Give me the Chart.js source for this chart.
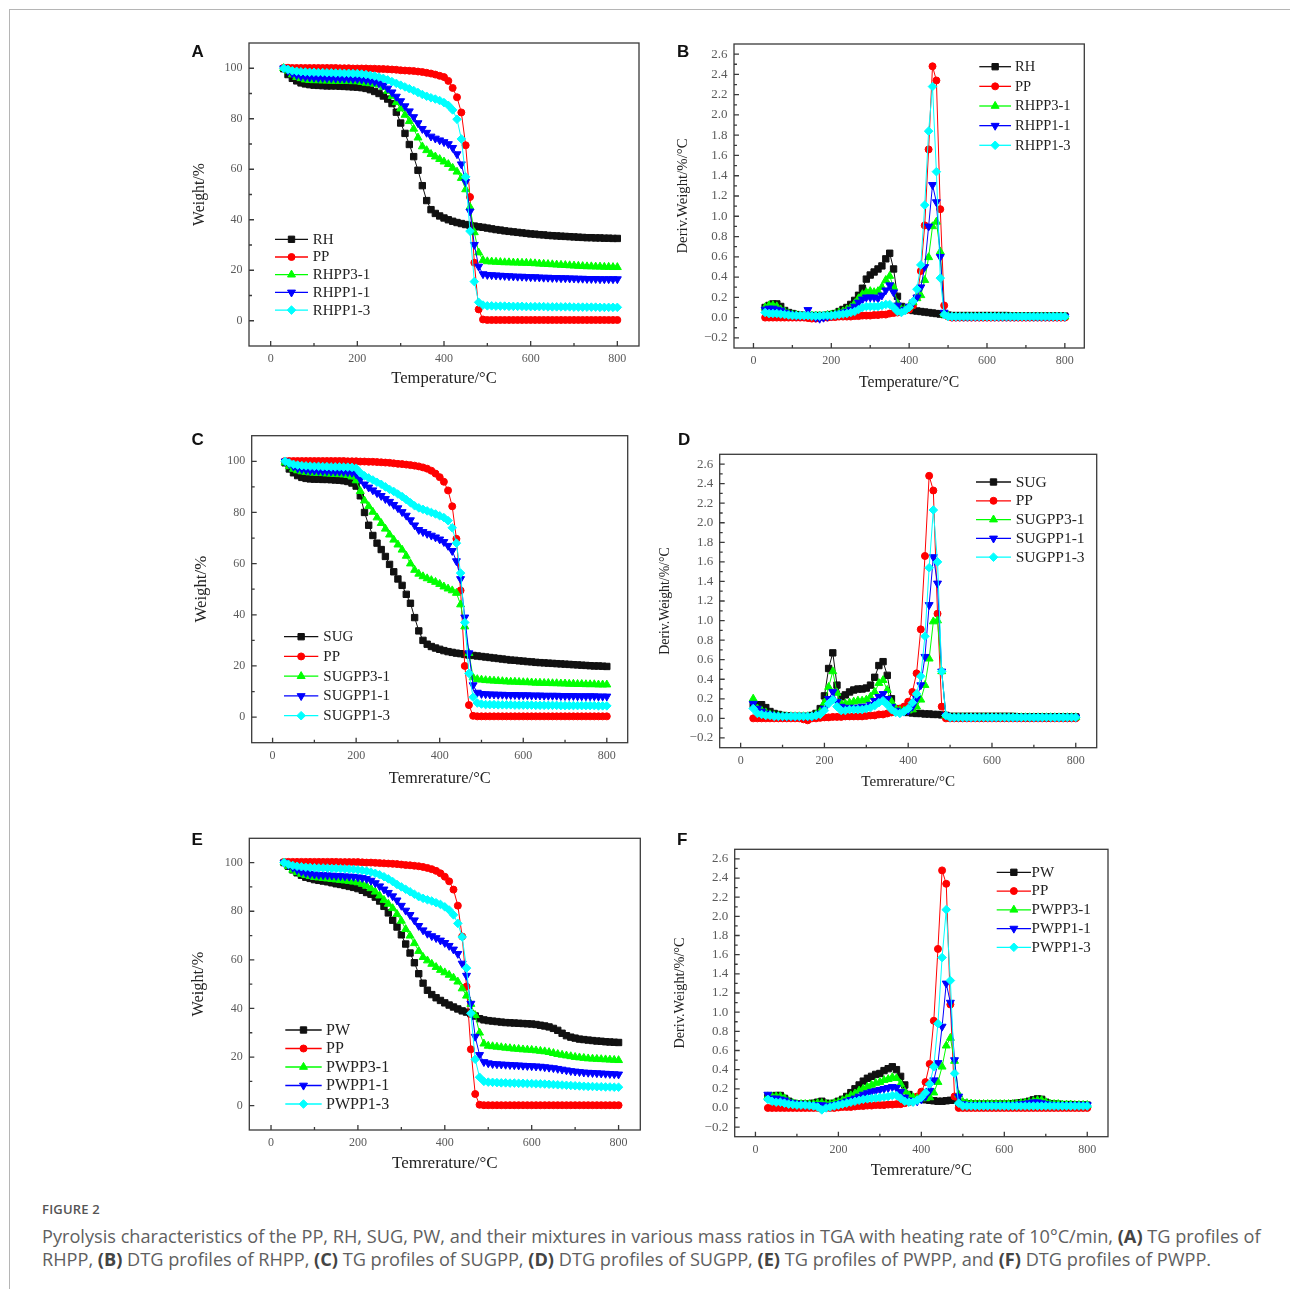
<!DOCTYPE html>
<html>
<head>
<meta charset="utf-8">
<script src="https://cdn.jsdelivr.net/npm/chart.js@4.4.1/dist/chart.umd.min.js"></script>
<style>
  body { margin: 0; background: #fff; }
  #page { position: relative; width: 1290px; height: 1289px; overflow: hidden; background: #fff; }
  .frame { position: absolute; left: 9px; top: 9px; width: 1300px; height: 1300px;
           border-left: 1.5px solid #b5b5b5; border-top: 1.5px solid #b5b5b5; }
  canvas { position: absolute; }
  .tag { position: absolute; font: bold 17px "Liberation Sans", Arial, sans-serif; line-height: 17px; color: #111; }
  .figno { position: absolute; left: 42px; top: 1201px; font: 600 13px "Open Sans", sans-serif;
           line-height: 16px; color: #555; letter-spacing: 0.2px; }
  .cap { position: absolute; left: 42px; white-space: nowrap; font: 17px "Open Sans", sans-serif;
         line-height: 23px; color: #606060; }
  .cap b { color: #444; }
</style>
</head>
<body>
<div id="page">
  <div class="frame"></div>
  <canvas id="cA"></canvas>
  <canvas id="cB"></canvas>
  <canvas id="cC"></canvas>
  <canvas id="cD"></canvas>
  <canvas id="cE"></canvas>
  <canvas id="cF"></canvas>
  <div class="tag" style="left:191.5px;top:42.8px">A</div>
  <div class="tag" style="left:677px;top:42.8px">B</div>
  <div class="tag" style="left:191.5px;top:431px">C</div>
  <div class="tag" style="left:678px;top:431px">D</div>
  <div class="tag" style="left:191.5px;top:830.5px">E</div>
  <div class="tag" style="left:677px;top:830.5px">F</div>
  <div class="figno">FIGURE 2</div>
  <div class="cap" id="cap1" style="top:1224.5px">Pyrolysis characteristics of the PP, RH, SUG, PW, and their mixtures in various mass ratios in TGA with heating rate of 10°C/min, <b>(A)</b> TG profiles of</div>
  <div class="cap" id="cap2" style="top:1247.5px">RHPP, <b>(B)</b> DTG profiles of RHPP, <b>(C)</b> TG profiles of SUGPP, <b>(D)</b> DTG profiles of SUGPP, <b>(E)</b> TG profiles of PWPP, and <b>(F)</b> DTG profiles of PWPP.</div>
</div>

<script>
// temperature grid, °C
const temps = [
  30, 40, 50, 60, 70, 80, 90, 100,
  110, 120, 130, 140, 150, 160, 170, 180, 190, 200,
  210, 220, 230, 240, 250, 260, 270, 280, 290, 300,
  310, 320, 330, 340, 350, 360, 370, 380, 390, 400,
  410, 420, 430, 440, 450, 460, 470, 480, 490, 500,
  510, 520, 530, 540, 550, 560, 570, 580, 590, 600,
  610, 620, 630, 640, 650, 660, 670, 680, 690, 700,
  710, 720, 730, 740, 750, 760, 770, 780, 790, 800
];

// tick values
const xTicks = [0, 100, 200, 300, 400, 500, 600, 700, 800];
const tgTicks = [0, 10, 20, 30, 40, 50, 60, 70, 80, 90, 100];
const dtgTicks = [-0.2, -0.1, 0, 0.1, 0.2, 0.3, 0.4, 0.5, 0.6, 0.7, 0.8, 0.9, 1.0, 1.1, 1.2, 1.3, 1.4,
  1.5, 1.6, 1.7, 1.8, 1.9, 2.0, 2.1, 2.2, 2.3, 2.4, 2.5, 2.6];

const namesRH = ['RH', 'PP', 'RHPP3-1', 'RHPP1-1', 'RHPP1-3'];
const namesSUG = ['SUG', 'PP', 'SUGPP3-1', 'SUGPP1-1', 'SUGPP1-3'];
const namesPW = ['PW', 'PP', 'PWPP3-1', 'PWPP1-1', 'PWPP1-3'];

// ---- (A) TG, rice husk blends (weight %)
const tgRH = [
  99.8, 97.5, 96.0, 95.0, 94.2, 93.8, 93.5, 93.3,
  93.2, 93.1, 93.0, 93.0, 93.0, 92.9, 92.8, 92.7, 92.6, 92.5,
  92.3, 92.0, 91.5, 90.8, 90.0, 89.0, 87.8, 86.0, 82.6, 78.3,
  74.2, 69.8, 65.0, 59.6, 53.5, 47.6, 44.0, 42.5, 41.5, 40.7,
  40.0, 39.4, 38.9, 38.5, 38.1, 37.8, 37.5, 37.2, 37.0, 36.7,
  36.4, 36.1, 35.9, 35.6, 35.4, 35.2, 35.0, 34.8, 34.6, 34.4,
  34.3, 34.1, 34.0, 33.8, 33.7, 33.6, 33.5, 33.4, 33.3, 33.2,
  33.1, 33.0, 32.9, 32.9, 32.8, 32.8, 32.7, 32.7, 32.6, 32.6
];
const tgPP_RH = [
  100.2, 100.2, 100.1, 100.1, 100.1, 100.1, 100.1, 100.1,
  100.1, 100.1, 100.1, 100.1, 100.1, 100.0, 100.0, 100.0, 99.9, 99.9,
  99.9, 99.9, 99.8, 99.8, 99.7, 99.7, 99.6, 99.5, 99.4, 99.2,
  99.1, 99.0, 98.9, 98.7, 98.5, 98.2, 97.9, 97.5, 97.0, 96.5,
  95.0, 92.2, 88.5, 82.5, 69.5, 49.0, 23.0, 4.5, 0.5, 0.3,
  0.3, 0.3, 0.3, 0.3, 0.3, 0.3, 0.3, 0.3, 0.3, 0.3,
  0.3, 0.3, 0.3, 0.3, 0.3, 0.3, 0.3, 0.3, 0.3, 0.3,
  0.3, 0.3, 0.3, 0.3, 0.3, 0.3, 0.3, 0.3, 0.3, 0.3
];
const tgRHPP31 = [
  100.0, 99.0, 97.5, 96.5, 96.0, 95.5, 95.3, 95.2,
  95.2, 95.1, 95.1, 95.0, 95.0, 95.0, 94.9, 94.9, 94.8, 94.8,
  94.5, 94.2, 94.0, 93.8, 93.5, 92.5, 91.0, 89.0, 86.5, 84.0,
  81.5, 79.0, 76.0, 72.5, 69.0, 67.5, 66.0, 65.0, 64.0, 63.0,
  62.0, 60.5, 59.0, 56.5, 52.0, 45.0, 35.0, 27.0, 24.0, 23.5,
  23.4, 23.3, 23.2, 23.1, 23.1, 23.0, 23.0, 22.9, 22.9, 22.8,
  22.7, 22.6, 22.5, 22.4, 22.3, 22.2, 22.1, 22.0, 21.9, 21.8,
  21.7, 21.6, 21.5, 21.5, 21.4, 21.4, 21.3, 21.3, 21.2, 21.2
];
const tgRHPP11 = [
  100.0, 99.0, 98.0, 97.3, 96.9, 96.6, 96.4, 96.3,
  96.2, 96.2, 96.1, 96.1, 96.0, 96.0, 95.9, 95.9, 95.8, 95.8,
  95.6, 95.4, 95.1, 94.7, 94.1, 93.2, 92.0, 90.5, 88.8, 87.0,
  85.0, 83.0, 80.7, 78.3, 76.0, 74.5, 73.0, 72.2, 71.5, 70.8,
  70.0, 68.5, 66.0, 62.0, 55.0, 43.3, 30.1, 21.5, 18.5, 18.2,
  18.1, 18.0, 17.9, 17.8, 17.7, 17.6, 17.5, 17.5, 17.4, 17.3,
  17.3, 17.2, 17.1, 17.1, 17.0, 17.0, 16.9, 16.9, 16.8, 16.8,
  16.7, 16.7, 16.6, 16.6, 16.6, 16.5, 16.5, 16.5, 16.5, 16.5
];
const tgRHPP13 = [
  100.0, 99.5, 99.0, 98.8, 98.6, 98.5, 98.4, 98.4,
  98.3, 98.3, 98.2, 98.2, 98.1, 98.1, 98.0, 98.0, 97.9, 97.9,
  97.7, 97.5, 97.2, 96.9, 96.5, 96.0, 95.4, 94.7, 94.0, 93.3,
  92.6, 91.9, 91.2, 90.4, 89.6, 88.9, 88.3, 87.8, 87.2, 86.4,
  85.3, 83.5, 79.8, 72.0, 57.0, 35.5, 15.5, 7.3, 6.2, 5.9,
  5.9, 5.8, 5.8, 5.8, 5.7, 5.7, 5.7, 5.7, 5.6, 5.6,
  5.6, 5.6, 5.6, 5.5, 5.5, 5.5, 5.5, 5.5, 5.5, 5.4,
  5.4, 5.4, 5.4, 5.4, 5.4, 5.3, 5.3, 5.3, 5.3, 5.3
];

// ---- (B) DTG, rice husk blends (%/°C)
const dtgRH = [
  0.10, 0.12, 0.135, 0.135, 0.11, 0.07, 0.05, 0.04,
  0.03, 0.025, 0.02, 0.02, 0.02, 0.02, 0.02, 0.02, 0.025, 0.03,
  0.04, 0.06, 0.08, 0.10, 0.13, 0.17, 0.22, 0.29, 0.38, 0.42,
  0.45, 0.48, 0.51, 0.58, 0.635, 0.48, 0.21, 0.11, 0.09, 0.08,
  0.07, 0.065, 0.06, 0.055, 0.05, 0.045, 0.04, 0.035, 0.03, 0.025,
  0.02, 0.02, 0.02, 0.02, 0.02, 0.02, 0.02, 0.02, 0.02, 0.02,
  0.02, 0.02, 0.02, 0.02, 0.02, 0.015, 0.015, 0.015, 0.015, 0.015,
  0.015, 0.015, 0.015, 0.015, 0.015, 0.015, 0.015, 0.015, 0.015, 0.015
];
const dtgPP_RH = [
  0, 0, 0, 0, 0, 0, 0, 0,
  0, 0, 0, -0.005, -0.01, -0.01, 0, 0, 0, 0.005,
  0.005, 0.01, 0.01, 0.01, 0.01, 0.015, 0.015, 0.02, 0.02, 0.02,
  0.025, 0.025, 0.03, 0.03, 0.04, 0.045, 0.05, 0.06, 0.07, 0.08,
  0.12, 0.20, 0.46, 0.91, 1.66, 2.48, 2.34, 1.07, 0.12, 0.01,
  0, 0, 0, 0, 0, 0, 0, 0, 0, 0,
  0, 0, 0, 0, 0, 0, 0, 0, 0, 0,
  0, 0, 0, 0, 0, 0, 0, 0, 0, 0
];
const dtgRHPP31 = [
  0.10, 0.12, 0.12, 0.11, 0.08, 0.06, 0.04, 0.03,
  0.025, 0.02, 0.02, 0.02, 0.02, 0.02, 0.02, 0.02, 0.025, 0.03,
  0.035, 0.05, 0.06, 0.08, 0.10, 0.14, 0.19, 0.23, 0.25, 0.26,
  0.25, 0.26, 0.30, 0.37, 0.41, 0.30, 0.14, 0.08, 0.09, 0.11,
  0.15, 0.19, 0.22, 0.37, 0.595, 0.90, 0.945, 0.65, 0.03, 0.02,
  0.01, 0.01, 0.01, 0.01, 0.01, 0.01, 0.01, 0.01, 0.01, 0.01,
  0.01, 0.01, 0.01, 0.01, 0.01, 0.01, 0.01, 0.01, 0.01, 0.01,
  0.01, 0.01, 0.01, 0.01, 0.01, 0.01, 0.01, 0.01, 0.01, 0.01
];
const dtgRHPP11 = [
  0.08, 0.09, 0.09, 0.08, 0.07, 0.05, 0.04, 0.03,
  0.02, 0.02, 0.02, 0.076, 0.02, 0.0, -0.01, 0.0, 0.01, 0.02,
  0.03, 0.04, 0.05, 0.06, 0.08, 0.11, 0.15, 0.18, 0.20, 0.20,
  0.20, 0.19, 0.22, 0.27, 0.32, 0.25, 0.12, 0.07, 0.08, 0.11,
  0.15, 0.20, 0.30, 0.50, 0.90, 1.31, 1.14, 0.60, 0.05, 0.02,
  0.01, 0.01, 0.01, 0.01, 0.01, 0.01, 0.01, 0.01, 0.01, 0.01,
  0.01, 0.01, 0.01, 0.01, 0.01, 0.01, 0.01, 0.01, 0.01, 0.01,
  0.01, 0.01, 0.01, 0.01, 0.01, 0.01, 0.01, 0.01, 0.01, 0.01
];
const dtgRHPP13 = [
  0.05, 0.04, 0.04, 0.04, 0.035, 0.03, 0.025, 0.02,
  0.02, 0.02, 0.02, 0.02, 0.015, 0.015, 0.015, 0.02, 0.02, 0.02,
  0.025, 0.03, 0.035, 0.04, 0.05, 0.06, 0.08, 0.10, 0.11, 0.11,
  0.11, 0.11, 0.12, 0.13, 0.13, 0.10, 0.06, 0.05, 0.07, 0.10,
  0.16, 0.28, 0.52, 1.11, 1.84, 2.28, 1.44, 0.39, 0.03, 0.01,
  0.01, 0.01, 0.01, 0.01, 0.01, 0.01, 0.01, 0.01, 0.01, 0.01,
  0.01, 0.01, 0.01, 0.01, 0.01, 0.01, 0.01, 0.01, 0.01, 0.01,
  0.01, 0.01, 0.01, 0.01, 0.01, 0.01, 0.01, 0.01, 0.01, 0.01
];

// ---- (C) TG, sugarcane bagasse blends
const tgSUG = [
  99.4, 97.0, 95.5, 94.4, 93.7, 93.3, 93.1, 93.0,
  93.0, 92.9, 92.9, 92.8, 92.7, 92.6, 92.4, 92.1, 91.5, 90.3,
  86.5, 80.0, 75.0, 71.0, 68.0, 65.5, 62.8, 59.7, 56.8, 54.0,
  51.5, 48.0, 44.5, 38.9, 33.7, 30.0, 28.5, 27.6, 27.0, 26.5,
  26.0, 25.6, 25.3, 25.0, 24.8, 24.5, 24.3, 24.1, 23.9, 23.7,
  23.5, 23.3, 23.1, 22.9, 22.7, 22.5, 22.3, 22.2, 22.0, 21.9,
  21.7, 21.6, 21.4, 21.3, 21.2, 21.1, 21.0, 20.9, 20.8, 20.7,
  20.6, 20.5, 20.4, 20.3, 20.2, 20.1, 20.0, 20.0, 19.9, 19.8
];
const tgPP_SUG = [
  100.1, 100.1, 100.1, 100.1, 100.1, 100.1, 100.1, 100.1,
  100.1, 100.1, 100.1, 100.1, 100.1, 100.1, 100.1, 100.0, 100.0, 100.0,
  99.9, 99.9, 99.8, 99.8, 99.7, 99.6, 99.5, 99.4, 99.2, 99.0,
  98.9, 98.7, 98.5, 98.3, 98.0, 97.6, 97.1, 96.3, 95.2, 93.8,
  92.0, 88.6, 82.4, 69.7, 49.5, 20.0, 4.7, 0.5, 0.3, 0.3,
  0.3, 0.3, 0.3, 0.3, 0.3, 0.3, 0.3, 0.3, 0.3, 0.3,
  0.3, 0.3, 0.3, 0.3, 0.3, 0.3, 0.3, 0.3, 0.3, 0.3,
  0.3, 0.3, 0.3, 0.3, 0.3, 0.3, 0.3, 0.3, 0.3, 0.3
];
const tgSUGPP31 = [
  99.5, 98.0, 97.0, 96.4, 96.0, 95.8, 95.6, 95.5,
  95.4, 95.3, 95.2, 95.1, 95.0, 94.9, 94.8, 94.6, 94.0, 92.5,
  88.3, 84.6, 82.4, 80.2, 78.0, 75.8, 73.6, 71.3, 69.3, 67.4,
  65.4, 63.0, 60.0, 57.5, 56.0, 55.0, 54.2, 53.5, 52.8, 52.0,
  51.0, 50.2, 49.5, 48.5, 44.0, 35.4, 25.0, 15.5, 14.8, 14.6,
  14.4, 14.3, 14.2, 14.1, 14.0, 13.9, 13.8, 13.8, 13.7, 13.6,
  13.6, 13.5, 13.4, 13.4, 13.3, 13.3, 13.2, 13.2, 13.1, 13.1,
  13.0, 13.0, 12.9, 12.9, 12.8, 12.8, 12.8, 12.7, 12.7, 12.7
];
const tgSUGPP11 = [
  100.0, 99.0, 98.0, 97.3, 97.0, 96.7, 96.5, 96.4,
  96.3, 96.2, 96.2, 96.1, 96.0, 96.0, 95.9, 95.8, 95.6, 95.0,
  93.0, 91.0, 89.8, 88.7, 87.6, 86.5, 85.3, 84.2, 83.0, 81.7,
  80.2, 78.8, 77.0, 75.0, 73.2, 72.4, 71.7, 71.0, 70.3, 69.5,
  68.5, 67.0, 65.0, 61.0, 54.0, 39.0, 25.0, 12.5, 9.6, 9.1,
  9.0, 8.9, 8.9, 8.8, 8.8, 8.7, 8.7, 8.7, 8.6, 8.6,
  8.6, 8.5, 8.5, 8.5, 8.4, 8.4, 8.4, 8.4, 8.3, 8.3,
  8.3, 8.3, 8.2, 8.2, 8.2, 8.2, 8.2, 8.1, 8.1, 8.1
];
const tgSUGPP13 = [
  100.0, 99.3, 98.8, 98.5, 98.3, 98.2, 98.1, 98.0,
  98.0, 97.9, 97.9, 97.8, 97.8, 97.8, 97.7, 97.7, 97.6, 97.3,
  95.5, 94.3, 93.5, 92.7, 91.8, 91.0, 90.0, 89.0, 88.2, 87.2,
  86.2, 85.0, 83.8, 82.6, 81.8, 81.2, 80.6, 80.0, 79.4, 78.7,
  78.0, 76.8, 74.0, 68.0, 56.3, 37.0, 17.1, 7.8, 5.5, 5.1,
  4.9, 4.9, 4.9, 4.8, 4.8, 4.8, 4.8, 4.7, 4.7, 4.7,
  4.7, 4.7, 4.6, 4.6, 4.6, 4.6, 4.6, 4.6, 4.5, 4.5,
  4.5, 4.5, 4.5, 4.5, 4.5, 4.5, 4.5, 4.4, 4.4, 4.4
];

// ---- (D) DTG, sugarcane bagasse blends
const dtgSUG = [
  0.14, 0.14, 0.14, 0.11, 0.07, 0.05, 0.04, 0.03,
  0.025, 0.02, 0.02, 0.02, 0.02, 0.02, 0.03, 0.05, 0.10, 0.23,
  0.51, 0.67, 0.34, 0.22, 0.24, 0.27, 0.29, 0.30, 0.30, 0.31,
  0.34, 0.42, 0.54, 0.58, 0.44, 0.20, 0.10, 0.08, 0.07, 0.06,
  0.055, 0.05, 0.05, 0.045, 0.045, 0.04, 0.04, 0.035, 0.03, 0.02,
  0.02, 0.02, 0.02, 0.02, 0.02, 0.02, 0.02, 0.02, 0.02, 0.02,
  0.02, 0.02, 0.02, 0.02, 0.02, 0.015, 0.015, 0.015, 0.015, 0.015,
  0.015, 0.015, 0.015, 0.015, 0.015, 0.015, 0.015, 0.015, 0.015, 0.015
];
const dtgPP_SUG = [
  0, 0, 0, 0, 0, 0, 0, 0,
  0, 0, 0, 0, -0.01, -0.02, 0, 0, 0.005, 0.01,
  0.01, 0.015, 0.015, 0.015, 0.02, 0.02, 0.02, 0.02, 0.02, 0.025,
  0.03, 0.03, 0.04, 0.04, 0.05, 0.06, 0.08, 0.10, 0.12, 0.17,
  0.27, 0.46, 0.91, 1.66, 2.48, 2.33, 1.07, 0.12, 0, 0,
  0, 0, 0, 0, 0, 0, 0, 0, 0, 0,
  0, 0, 0, 0, 0, 0, 0, 0, 0, 0,
  0, 0, 0, 0, 0, 0, 0, 0, 0, 0
];
const dtgSUGPP31 = [
  0.20, 0.10, 0.08, 0.06, 0.04, 0.03, 0.025, 0.02,
  0.02, 0.02, 0.02, 0.02, 0.02, 0.02, 0.02, 0.04, 0.07, 0.16,
  0.32, 0.48, 0.26, 0.15, 0.15, 0.16, 0.17, 0.18, 0.18, 0.19,
  0.22, 0.27, 0.36, 0.39, 0.29, 0.17, 0.10, 0.08, 0.08, 0.08,
  0.09, 0.12, 0.19, 0.34, 0.61, 0.99, 1.00, 0.48, 0.03, 0.01,
  0.01, 0.01, 0.01, 0.01, 0.01, 0.01, 0.01, 0.01, 0.01, 0.01,
  0.01, 0.01, 0.01, 0.01, 0.01, 0.01, 0.01, 0.01, 0.01, 0.01,
  0.01, 0.01, 0.01, 0.01, 0.01, 0.01, 0.01, 0.01, 0.01, 0.01
];
const dtgSUGPP11 = [
  0.15, 0.10, 0.07, 0.05, 0.04, 0.03, 0.025, 0.02,
  0.02, 0.02, 0.02, 0.02, 0.02, 0.02, 0.02, 0.03, 0.05, 0.10,
  0.20, 0.27, 0.17, 0.12, 0.10, 0.11, 0.11, 0.11, 0.12, 0.12,
  0.14, 0.18, 0.22, 0.25, 0.20, 0.12, 0.08, 0.06, 0.07, 0.08,
  0.12, 0.20, 0.34, 0.63, 1.16, 1.65, 1.38, 0.48, 0.03, 0.01,
  0.01, 0.01, 0.01, 0.01, 0.01, 0.01, 0.01, 0.01, 0.01, 0.01,
  0.01, 0.01, 0.01, 0.01, 0.01, 0.01, 0.01, 0.01, 0.01, 0.01,
  0.01, 0.01, 0.01, 0.01, 0.01, 0.01, 0.01, 0.01, 0.01, 0.01
];
const dtgSUGPP13 = [
  0.10, 0.05, 0.04, 0.03, 0.03, 0.02, 0.02, 0.02,
  0.02, 0.02, 0.02, 0.02, 0.02, 0.02, 0.02, 0.03, 0.04, 0.08,
  0.15, 0.19, 0.12, 0.08, 0.08, 0.09, 0.09, 0.09, 0.09, 0.10,
  0.11, 0.13, 0.16, 0.18, 0.14, 0.09, 0.06, 0.05, 0.07, 0.10,
  0.16, 0.25, 0.43, 0.84, 1.54, 2.13, 1.60, 0.48, 0.03, 0.01,
  0.01, 0.01, 0.01, 0.01, 0.01, 0.01, 0.01, 0.01, 0.01, 0.01,
  0.01, 0.01, 0.01, 0.01, 0.01, 0.01, 0.01, 0.01, 0.01, 0.01,
  0.01, 0.01, 0.01, 0.01, 0.01, 0.01, 0.01, 0.01, 0.01, 0.01
];

// ---- (E) TG, pine wood blends
const tgPW = [
  100.0, 98.5, 97.0, 95.8, 94.8, 94.0, 93.5, 93.0,
  92.7, 92.4, 92.1, 91.7, 91.3, 91.0, 90.6, 90.2, 89.8, 89.3,
  88.6, 87.7, 87.0, 85.8, 84.2, 82.0, 79.3, 76.3, 73.5, 70.3,
  66.5, 62.8, 58.8, 54.3, 50.4, 47.5, 45.7, 44.4, 43.3, 42.3,
  41.4, 40.6, 39.8, 39.0, 38.5, 37.8, 36.9, 35.8, 35.3, 35.0,
  34.8, 34.6, 34.4, 34.2, 34.1, 34.0, 33.9, 33.8, 33.7, 33.6,
  33.4, 33.1, 32.8, 32.4, 31.8, 31.0, 29.8, 28.8, 28.2, 27.8,
  27.4, 27.2, 27.0, 26.8, 26.6, 26.5, 26.3, 26.2, 26.1, 26.0
];
const tgPP_PW = [
  100.3, 100.3, 100.3, 100.3, 100.3, 100.3, 100.3, 100.3,
  100.3, 100.3, 100.3, 100.3, 100.3, 100.2, 100.2, 100.2, 100.2, 100.2,
  100.1, 100.0, 100.0, 99.9, 99.8, 99.7, 99.6, 99.5, 99.4, 99.2,
  99.0, 98.9, 98.7, 98.5, 98.2, 97.8, 97.3, 96.6, 95.6, 94.2,
  92.3, 88.9, 82.3, 69.6, 49.0, 23.2, 4.8, 0.4, 0.2, 0.2,
  0.2, 0.2, 0.2, 0.2, 0.2, 0.2, 0.2, 0.2, 0.2, 0.2,
  0.2, 0.2, 0.2, 0.2, 0.2, 0.2, 0.2, 0.2, 0.2, 0.2,
  0.2, 0.2, 0.2, 0.2, 0.2, 0.2, 0.2, 0.2, 0.2, 0.2
];
const tgPWPP31 = [
  100.0, 98.5, 97.0, 96.0, 95.3, 94.8, 94.4, 94.0,
  93.8, 93.6, 93.4, 93.2, 93.0, 92.8, 92.6, 92.4, 92.1, 91.8,
  91.2, 90.4, 89.4, 88.0, 86.4, 84.6, 83.0, 81.2, 78.8, 76.0,
  72.6, 69.9, 66.8, 63.6, 61.1, 59.7, 58.3, 57.0, 55.8, 54.8,
  53.8, 52.6, 51.0, 48.2, 45.2, 41.8, 37.2, 30.0, 25.5, 24.6,
  24.4, 24.2, 24.0, 23.8, 23.6, 23.4, 23.3, 23.1, 23.0, 22.9,
  22.7, 22.5, 22.3, 22.0, 21.6, 21.2, 20.9, 20.6, 20.3, 20.0,
  19.8, 19.6, 19.4, 19.3, 19.2, 19.1, 19.0, 18.9, 18.8, 18.7
];
const tgPWPP11 = [
  100.0, 99.0, 98.0, 97.0, 96.3, 95.8, 95.4, 95.2,
  95.0, 94.9, 94.8, 94.7, 94.6, 94.5, 94.4, 94.3, 94.2, 94.0,
  93.7, 93.3, 92.6, 91.6, 90.3, 89.0, 87.6, 86.2, 84.5, 82.3,
  80.3, 78.5, 76.3, 74.0, 72.2, 70.8, 69.8, 69.0, 68.0, 67.0,
  65.8, 64.3, 62.5, 58.5, 53.5, 42.0, 28.4, 20.9, 18.0, 17.5,
  17.2, 17.1, 17.0, 16.9, 16.8, 16.7, 16.6, 16.5, 16.4, 16.3,
  16.2, 16.1, 15.9, 15.7, 15.5, 15.2, 14.9, 14.6, 14.3, 14.1,
  13.9, 13.7, 13.6, 13.5, 13.4, 13.3, 13.2, 13.1, 13.0, 12.9
];
const tgPWPP13 = [
  100.0, 99.3, 98.8, 98.5, 98.3, 98.1, 98.0, 97.9,
  97.8, 97.8, 97.7, 97.6, 97.6, 97.5, 97.4, 97.3, 97.2, 97.0,
  96.8, 96.5, 96.1, 95.6, 95.0, 94.2, 93.3, 92.2, 91.0, 90.0,
  89.0, 88.0, 87.0, 86.0, 85.3, 84.7, 84.2, 83.5, 82.8, 81.8,
  80.5, 78.5, 75.0, 69.4, 56.6, 38.0, 19.1, 11.7, 10.0, 9.7,
  9.6, 9.5, 9.4, 9.4, 9.3, 9.3, 9.2, 9.2, 9.1, 9.1,
  9.0, 9.0, 8.9, 8.8, 8.7, 8.6, 8.5, 8.4, 8.3, 8.2,
  8.1, 8.0, 7.9, 7.9, 7.8, 7.8, 7.7, 7.7, 7.6, 7.6
];

// ---- (F) DTG, pine wood blends
const dtgPW = [
  0.11, 0.12, 0.13, 0.13, 0.10, 0.07, 0.05, 0.04,
  0.04, 0.04, 0.04, 0.05, 0.06, 0.07, 0.05, 0.04, 0.05, 0.07,
  0.09, 0.12, 0.16, 0.20, 0.24, 0.28, 0.31, 0.33, 0.35, 0.36,
  0.39, 0.41, 0.43, 0.40, 0.33, 0.24, 0.14, 0.11, 0.10, 0.09,
  0.085, 0.08, 0.075, 0.07, 0.07, 0.075, 0.08, 0.08, 0.06, 0.05,
  0.045, 0.04, 0.04, 0.04, 0.04, 0.04, 0.04, 0.04, 0.04, 0.04,
  0.04, 0.045, 0.05, 0.055, 0.06, 0.07, 0.085, 0.095, 0.09, 0.06,
  0.045, 0.04, 0.04, 0.035, 0.035, 0.035, 0.03, 0.03, 0.03, 0.03
];
const dtgPP_PW = [
  0, 0, 0, 0, 0, 0, 0, 0,
  0, 0, 0, 0, 0, -0.01, 0, 0, 0, 0.005,
  0.01, 0.01, 0.01, 0.015, 0.02, 0.02, 0.025, 0.025, 0.03, 0.03,
  0.03, 0.035, 0.035, 0.04, 0.04, 0.05, 0.06, 0.08, 0.12, 0.17,
  0.27, 0.46, 0.91, 1.66, 2.48, 2.34, 1.08, 0.12, 0, 0,
  0, 0, 0, 0, 0, 0, 0, 0, 0, 0,
  0, 0, 0, 0, 0, 0, 0, 0, 0, 0,
  0, 0, 0, 0, 0, 0, 0, 0, 0, 0
];
const dtgPWPP31 = [
  0.12, 0.12, 0.12, 0.12, 0.10, 0.07, 0.05, 0.04,
  0.04, 0.04, 0.04, 0.04, 0.05, 0.05, 0.04, 0.04, 0.05, 0.06,
  0.08, 0.10, 0.13, 0.15, 0.18, 0.20, 0.22, 0.24, 0.26, 0.27,
  0.29, 0.30, 0.32, 0.31, 0.25, 0.17, 0.13, 0.11, 0.10, 0.10,
  0.10, 0.11, 0.16, 0.27, 0.43, 0.65, 0.73, 0.49, 0.14, 0.06,
  0.05, 0.045, 0.04, 0.04, 0.04, 0.04, 0.04, 0.04, 0.04, 0.04,
  0.04, 0.04, 0.045, 0.05, 0.055, 0.06, 0.07, 0.08, 0.08, 0.06,
  0.045, 0.04, 0.04, 0.035, 0.035, 0.035, 0.03, 0.03, 0.03, 0.03
];
const dtgPWPP11 = [
  0.14, 0.10, 0.10, 0.09, 0.08, 0.06, 0.05, 0.04,
  0.04, 0.035, 0.03, 0.03, 0.03, 0.03, 0.02, 0.025, 0.03, 0.04,
  0.055, 0.07, 0.085, 0.10, 0.12, 0.14, 0.155, 0.17, 0.18, 0.19,
  0.20, 0.21, 0.22, 0.21, 0.17, 0.11, 0.08, 0.07, 0.07, 0.09,
  0.12, 0.18, 0.29, 0.47, 0.85, 1.30, 1.10, 0.50, 0.12, 0.04,
  0.03, 0.03, 0.03, 0.03, 0.03, 0.03, 0.03, 0.03, 0.03, 0.03,
  0.03, 0.03, 0.035, 0.04, 0.045, 0.05, 0.06, 0.06, 0.05, 0.04,
  0.035, 0.03, 0.03, 0.03, 0.03, 0.03, 0.03, 0.03, 0.03, 0.03
];
const dtgPWPP13 = [
  0.09, 0.07, 0.06, 0.06, 0.05, 0.04, 0.035, 0.03,
  0.03, 0.03, 0.025, 0.02, 0.01, -0.02, 0.0, 0.01, 0.02, 0.03,
  0.04, 0.05, 0.06, 0.07, 0.08, 0.09, 0.095, 0.10, 0.105, 0.11,
  0.115, 0.12, 0.13, 0.13, 0.10, 0.07, 0.06, 0.06, 0.08, 0.11,
  0.16, 0.25, 0.43, 0.88, 1.57, 2.07, 1.33, 0.36, 0.05, 0.02,
  0.02, 0.02, 0.02, 0.02, 0.02, 0.02, 0.02, 0.02, 0.02, 0.02,
  0.02, 0.02, 0.02, 0.02, 0.02, 0.02, 0.02, 0.02, 0.02, 0.02,
  0.02, 0.02, 0.02, 0.02, 0.02, 0.02, 0.02, 0.02, 0.02, 0.02
];

// series look (Origin style)
const seriesColors = ['#111111', '#ff0000', '#00ff00', '#0000ff', '#00ffff'];
const markerStyles = ['rect', 'circle', 'triangle', 'triangle', 'rectRot'];
const markerRotation = [0, 0, 0, 180, 0];
const markerRadius = [4.5, 3.5, 4.6, 4.6, 4.3];

const SERIF = '"Liberation Serif", "Times New Roman", serif';

// frame box + inward ticks
const boxTicks = {
  id: 'boxTicks',
  afterDraw(chart) {
    const {ctx, chartArea: a, scales: {x, y}} = chart;
    ctx.save();
    ctx.strokeStyle = '#3a3a3a';
    ctx.lineWidth = 1.3;
    ctx.strokeRect(a.left, a.top, a.right - a.left, a.bottom - a.top);
    ctx.beginPath();
    x.ticks.forEach(t => {
      const px = x.getPixelForValue(t.value);
      const len = t.label ? 5 : 3;
      ctx.moveTo(px, a.bottom);
      ctx.lineTo(px, a.bottom - len);
    });
    y.ticks.forEach(t => {
      const py = y.getPixelForValue(t.value);
      const len = t.label ? 5 : 3;
      ctx.moveTo(a.left, py);
      ctx.lineTo(a.left + len, py);
    });
    ctx.stroke();
    ctx.restore();
  }
};

// legend drawn inside the plot box
const inLegend = {
  id: 'inLegend',
  afterDraw(chart, args, o) {
    const {ctx, chartArea: a} = chart;
    chart.data.datasets.forEach((ds, i) => {
      const x0 = a.left + o.dx;
      const y0 = a.top + o.dy + i * o.row;
      ctx.save();
      ctx.strokeStyle = ds.borderColor;
      ctx.fillStyle = ds.backgroundColor;
      ctx.lineWidth = 1.3;
      ctx.beginPath();
      ctx.moveTo(x0, y0);
      ctx.lineTo(x0 + o.len, y0);
      ctx.stroke();
      ctx.lineWidth = 1;
      Chart.helpers.drawPoint(ctx, {
        pointStyle: ds.pointStyle, rotation: ds.pointRotation,
        radius: ds.pointRadius, borderWidth: 1
      }, x0 + o.len / 2, y0);
      ctx.fillStyle = '#222';
      ctx.font = o.size + 'px ' + SERIF;
      ctx.textBaseline = 'middle';
      ctx.textAlign = 'left';
      ctx.fillText(ds.label, x0 + o.len + o.gap, y0 + 0.5);
      ctx.restore();
    });
  }
};

const tgLabel = v => (v % 20 === 0 ? String(v) : '');
const dtgLabel = v => {
  const r = Math.round(v * 10);
  if (r % 2 !== 0) return '';
  return (r < 0 ? '\u2212' : '') + (Math.abs(r) / 10).toFixed(1);
};

const panels = [
  { id: 'cA', canvas: [180, 36, 470, 360], area: [249, 43, 639, 346], kind: 'tg',
    names: namesRH, series: [tgRH, tgPP_RH, tgRHPP31, tgRHPP11, tgRHPP13],
    xTitle: 'Temperature/°C', yTitle: 'Weight/%', xSize: 16.5, ySize: 15.8, xOff: 17, yOff: 20,
    leg: { dx: 26, dy: 196.3, row: 17.7, len: 33, gap: 4.7, size: 15 } },
  { id: 'cB', canvas: [660, 36, 440, 364], area: [734, 44, 1084.3, 348], kind: 'dtg',
    names: namesRH, series: [dtgRH, dtgPP_RH, dtgRHPP31, dtgRHPP11, dtgRHPP13],
    xTitle: 'Temperature/°C', yTitle: 'Deriv.Weight/%/°C', xSize: 15.7, ySize: 14.8, xOff: 16.7, yOff: 22.7,
    leg: { dx: 245.3, dy: 22.7, row: 19.65, len: 31.7, gap: 4, size: 14.5 } },
  { id: 'cC', canvas: [180, 428, 470, 370], area: [251.7, 435.7, 627.7, 742.7], kind: 'tg',
    names: namesSUG, series: [tgSUG, tgPP_SUG, tgSUGPP31, tgSUGPP11, tgSUGPP13],
    xTitle: 'Temrerature/°C', yTitle: 'Weight/%', xSize: 16.4, ySize: 16.8, xOff: 19.7, yOff: 21.7,
    leg: { dx: 32.3, dy: 201, row: 19.75, len: 34.3, gap: 5, size: 15 } },
  { id: 'cD', canvas: [650, 446, 460, 354], area: [719.7, 454.3, 1096.7, 747.7], kind: 'dtg',
    names: namesSUG, series: [dtgSUG, dtgPP_SUG, dtgSUGPP31, dtgSUGPP11, dtgSUGPP13],
    xTitle: 'Temrerature/°C', yTitle: 'Deriv.Weight/%/°C', xSize: 15.1, ySize: 13.8, xOff: 18.3, yOff: 15,
    leg: { dx: 256.3, dy: 27.7, row: 18.8, len: 35, gap: 4.7, size: 15.5 } },
  { id: 'cE', canvas: [180, 830, 470, 360], area: [249.3, 838.3, 640.3, 1130], kind: 'tg',
    names: namesPW, series: [tgPW, tgPP_PW, tgPWPP31, tgPWPP11, tgPWPP13],
    xTitle: 'Temrerature/°C', yTitle: 'Weight/%', xSize: 17, ySize: 16.3, xOff: 26.7, yOff: 18.3,
    leg: { dx: 36, dy: 191.7, row: 18.5, len: 36.4, gap: 4.3, size: 16 } },
  { id: 'cF', canvas: [660, 840, 460, 350], area: [734.7, 849.3, 1108, 1136.7], kind: 'dtg',
    names: namesPW, series: [dtgPW, dtgPP_PW, dtgPWPP31, dtgPWPP11, dtgPWPP13],
    xTitle: 'Temrerature/°C', yTitle: 'Deriv.Weight/%/°C', xSize: 16.3, ySize: 14.3, xOff: 19.3, yOff: 20,
    leg: { dx: 262, dy: 23, row: 18.75, len: 34.3, gap: 0.6, size: 15 } }
];

function buildPanel(p) {
  const cv = document.getElementById(p.id);
  const [cx, cy, cw, ch] = p.canvas;
  const [al, at, ar, ab] = p.area;
  cv.width = cw;
  cv.height = ch;
  cv.style.left = cx + 'px';
  cv.style.top = cy + 'px';
  const tg = p.kind === 'tg';
  const yW = al - cx;
  const xH = cy + ch - ab;
  const xFont = { family: SERIF, size: 12 };
  const yFont = { family: SERIF, size: tg ? 12 : 13 };

  new Chart(cv, {
    type: 'line',
    data: {
      labels: temps,
      datasets: p.series.map((vals, i) => ({
        label: p.names[i],
        data: vals,
        borderColor: seriesColors[i],
        backgroundColor: seriesColors[i],
        borderWidth: 1,
        pointStyle: markerStyles[i],
        pointRotation: markerRotation[i],
        pointRadius: markerRadius[i],
        pointHoverRadius: markerRadius[i],
        pointBorderWidth: 1,
        tension: 0,
        order: 4 - i
      }))
    },
    options: {
      responsive: false,
      animation: false,
      events: [],
      layout: { autoPadding: false, padding: { left: 0, bottom: 0, top: at - cy, right: cx + cw - ar } },
      plugins: { legend: { display: false }, tooltip: { enabled: false }, inLegend: p.leg },
      scales: {
        x: {
          type: 'linear', min: -50, max: 850,
          afterBuildTicks: s => { s.ticks = xTicks.map(v => ({ value: v })); },
          afterFit: s => { s.height = xH; s.paddingLeft = 0; s.paddingRight = 0; },
          grid: { display: false, drawTicks: false },
          border: { display: false },
          ticks: { autoSkip: false, maxRotation: 0, padding: 6, color: '#5a5a5a', font: xFont,
                   callback: v => (v % 200 === 0 ? String(v) : '') },
          title: { display: true, text: p.xTitle, color: '#222',
                   font: { family: SERIF, size: p.xSize },
                   padding: { top: 0, bottom: p.xOff - p.xSize * 0.6 } }
        },
        y: {
          type: 'linear',
          min: tg ? -10 : -0.3,
          max: tg ? 110 : 2.7,
          afterBuildTicks: s => { s.ticks = (tg ? tgTicks : dtgTicks).map(v => ({ value: v })); },
          afterFit: s => { s.width = yW; s.paddingTop = 0; s.paddingBottom = 0; },
          grid: { display: false, drawTicks: false },
          border: { display: false },
          ticks: { autoSkip: false, padding: 6.5, color: '#5a5a5a', font: yFont,
                   callback: tg ? tgLabel : dtgLabel },
          title: { display: true, text: p.yTitle, color: '#222',
                   font: { family: SERIF, size: p.ySize },
                   padding: { top: p.yOff - p.ySize * 0.6, bottom: 0 } }
        }
      }
    },
    plugins: [boxTicks, inLegend]
  });
}

panels.forEach(buildPanel);

// fit the caption's first line to the printed width
const cap1 = document.getElementById('cap1');
const cap2 = document.getElementById('cap2');
const w1 = cap1.getBoundingClientRect().width;
const fs = 17 * 1220 / w1;
cap1.style.fontSize = fs + 'px';
cap2.style.fontSize = fs + 'px';
</script>
</body>
</html>
